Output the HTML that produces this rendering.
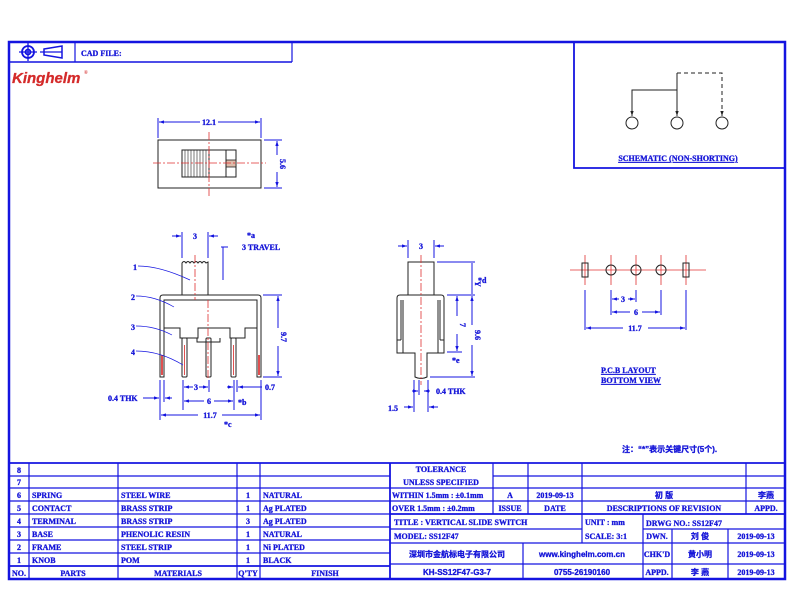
<!DOCTYPE html>
<html><head><meta charset="utf-8"><style>
html,body{margin:0;padding:0;background:#fff;}
svg{display:block;}
text{font-family:"Liberation Serif","Noto Serif CJK SC",serif;font-weight:bold;fill:#1414d8;stroke:#1414d8;stroke-width:0.3;font-size:8px;}
.cn{font-family:"Liberation Sans","Noto Sans CJK SC",sans-serif;}
.b{stroke:#1414e0;fill:none;}
.k{stroke:#222;fill:none;stroke-width:1;}
.r{stroke:#e03030;fill:none;stroke-width:0.8;stroke-dasharray:8 2 2 2;}
</style></head><body>
<svg width="795" height="597" viewBox="0 0 795 597" xmlns="http://www.w3.org/2000/svg">
<defs>
<marker id="a" viewBox="0 0 6 6" refX="6" refY="3" markerWidth="5" markerHeight="5" orient="auto-start-reverse"><path d="M0,1 L6,3 L0,5z" fill="#1414e0"/></marker>
<marker id="ak" viewBox="0 0 6 6" refX="6" refY="3" markerWidth="5" markerHeight="5" orient="auto"><path d="M0,1 L6,3 L0,5z" fill="#222"/></marker>
</defs>
<!-- frame -->
<rect x="9" y="42" width="776" height="537" class="b" stroke-width="2.5"/>
<line x1="9" y1="62" x2="292" y2="62" class="b" stroke-width="1.5"/>
<line x1="75" y1="42" x2="75" y2="62" class="b" stroke-width="1.2"/>
<line x1="292" y1="42" x2="292" y2="62" class="b" stroke-width="1.2"/>
<circle cx="28" cy="52" r="6" class="b" stroke-width="1.8"/><circle cx="28" cy="52" r="2.5" class="b" stroke-width="1.8"/>
<line x1="19" y1="52" x2="37" y2="52" class="b" stroke-width="1.3"/><line x1="28" y1="43" x2="28" y2="61" class="b" stroke-width="1.3"/>
<path d="M44,49 L62,46 L62,58 L44,55 Z" class="b" stroke-width="1.5"/><line x1="40" y1="52" x2="62" y2="52" class="b" stroke-width="1.3"/>
<text x="81" y="56" font-size="9">CAD  FILE:</text>
<text x="12" y="83" style="font-family:'Liberation Sans',sans-serif;font-style:italic;font-size:15px;fill:#d42a2a;stroke:#d42a2a;stroke-width:0.3">Kinghelm</text>
<text x="84" y="74" style="font-size:5px;fill:#d42a2a;stroke:none">®</text>
<!-- schematic box -->
<polyline points="574,42 574,168 785,168" class="b" stroke-width="1.8"/>
<circle cx="632" cy="123" r="6" class="k"/><circle cx="677" cy="123" r="6" class="k"/><circle cx="722" cy="123" r="6" class="k"/>
<polyline points="632,116 632,90 677,90" class="k"/>
<line x1="632" y1="100" x2="632" y2="116" class="k" marker-end="url(#ak)"/>
<line x1="677" y1="73" x2="677" y2="116" class="k" marker-end="url(#ak)"/>
<polyline points="677,73 722,73 722,116" class="k" stroke-dasharray="4 3" marker-end="url(#ak)"/>
<text x="678" y="161" text-anchor="middle" text-decoration="underline">SCHEMATIC  (NON-SHORTING)</text>
<!-- top view -->
<rect x="158" y="140" width="103" height="48" class="k"/>
<rect x="182" y="150" width="27" height="27" class="k"/>
<g stroke="#222" stroke-width="0.6"><line x1="185" y1="150" x2="185" y2="177"/><line x1="188" y1="150" x2="188" y2="177"/><line x1="191" y1="150" x2="191" y2="177"/><line x1="194" y1="150" x2="194" y2="177"/><line x1="197" y1="150" x2="197" y2="177"/><line x1="200" y1="150" x2="200" y2="177"/><line x1="203" y1="150" x2="203" y2="177"/><line x1="206" y1="150" x2="206" y2="177"/></g>
<rect x="209" y="150" width="27" height="27" class="k"/>
<rect x="226" y="160" width="10" height="7" fill="#dba" stroke="#222" stroke-width="0.8"/>
<line x1="226" y1="150" x2="226" y2="177" class="k"/>
<line x1="209" y1="132" x2="209" y2="196" class="r"/><line x1="153" y1="163" x2="266" y2="163" class="r"/>
<line x1="158" y1="118" x2="158" y2="138" class="b"/><line x1="261" y1="118" x2="261" y2="138" class="b"/>
<line x1="159" y1="122" x2="200" y2="122" class="b" marker-start="url(#a)"/><line x1="218" y1="122" x2="260" y2="122" class="b" marker-end="url(#a)"/>
<text x="209" y="125" text-anchor="middle" font-size="9">12.1</text>
<line x1="264" y1="140" x2="282" y2="140" class="b"/><line x1="264" y1="188" x2="282" y2="188" class="b"/>
<line x1="277" y1="141" x2="277" y2="155" class="b" marker-start="url(#a)"/><line x1="277" y1="172" x2="277" y2="187" class="b" marker-end="url(#a)"/>
<text x="280" y="164" text-anchor="middle" font-size="9" transform="rotate(90 280 164)">5.6</text>
<!-- front view -->
<path d="M182,295 L182,263 Q184,260 186,263 Q188,260 190,263 Q192,260 194,263 Q196,260 198,263 Q200,260 202,263 Q204,260 206,263 L208,262 L208,295" class="k"/>
<path d="M160,377 L160,298 Q160,295 163,295 L258,295 Q261,295 261,298 L261,377 L257,377 L257,300 L164,300 L164,377 Z" class="k" fill="#fff"/>
<polyline points="164,328 180,328 180,338 198,338 198,328 230,328 230,338 245,338 245,328 257,328" class="k"/>
<polyline points="197,338 197,342 220,342 220,338" class="k"/>
<rect x="182" y="338" width="5" height="39" class="k" rx="1"/><rect x="206" y="338" width="5" height="39" class="k" rx="1"/><rect x="231" y="338" width="5" height="39" class="k" rx="1"/>
<rect x="161" y="355" width="2" height="20" fill="#e05050"/><rect x="258" y="355" width="2" height="20" fill="#e05050"/>
<line x1="184.5" y1="345" x2="184.5" y2="375" stroke="#e05050"/><line x1="233.5" y1="345" x2="233.5" y2="375" stroke="#e05050"/>
<line x1="195" y1="255" x2="195" y2="300" class="r"/><line x1="208" y1="300" x2="208" y2="378" class="r"/>
<line x1="182" y1="232" x2="182" y2="258" class="b"/><line x1="208" y1="232" x2="208" y2="258" class="b"/>
<line x1="172" y1="236" x2="181" y2="236" class="b" marker-end="url(#a)"/><line x1="218" y1="236" x2="209" y2="236" class="b" marker-end="url(#a)"/>
<text x="195" y="239" text-anchor="middle" font-size="9">3</text>
<text x="247" y="238" font-size="8">*a</text><text x="242" y="250" font-size="8">3  TRAVEL</text>
<line x1="223" y1="247" x2="223" y2="280" class="b"/><line x1="221" y1="247" x2="228" y2="247" class="b"/>
<line x1="263" y1="295" x2="282" y2="295" class="b"/><line x1="263" y1="377" x2="282" y2="377" class="b"/>
<line x1="278" y1="296" x2="278" y2="328" class="b" marker-start="url(#a)"/><line x1="278" y1="346" x2="278" y2="376" class="b" marker-end="url(#a)"/>
<text x="281" y="337" text-anchor="middle" font-size="9" transform="rotate(90 281 337)">9.7</text>
<text x="133" y="270" font-size="9">1</text><path d="M138,266 Q160,266 190,280" class="b" stroke-width="0.7"/>
<text x="131" y="300" font-size="9">2</text><path d="M136,296 Q155,296 174,307" class="b" stroke-width="0.7"/>
<text x="131" y="330" font-size="9">3</text><path d="M136,326 Q155,326 172,335" class="b" stroke-width="0.7"/>
<text x="131" y="355" font-size="9">4</text><path d="M136,351 Q160,351 183,365" class="b" stroke-width="0.7"/>
<line x1="183" y1="380" x2="183" y2="410" class="b"/><line x1="209" y1="380" x2="209" y2="392" class="b"/><line x1="234" y1="380" x2="234" y2="410" class="b"/><line x1="237" y1="380" x2="237" y2="392" class="b"/>
<line x1="160" y1="380" x2="160" y2="420" class="b"/><line x1="261" y1="380" x2="261" y2="420" class="b"/>
<line x1="184" y1="387" x2="193" y2="387" class="b" marker-start="url(#a)"/><line x1="199" y1="387" x2="208" y2="387" class="b" marker-end="url(#a)"/><text x="196" y="390" text-anchor="middle" font-size="9">3</text>
<line x1="227" y1="387" x2="233" y2="387" class="b" marker-end="url(#a)"/><line x1="247" y1="387" x2="238" y2="387" class="b" marker-end="url(#a)"/><line x1="247" y1="387" x2="262" y2="387" class="b"/><text x="265" y="390" font-size="9">0.7</text>
<line x1="184" y1="401" x2="204" y2="401" class="b" marker-start="url(#a)"/><line x1="214" y1="401" x2="233" y2="401" class="b" marker-end="url(#a)"/><text x="209" y="404" text-anchor="middle" font-size="9">6</text><text x="238" y="405" font-size="8">*b</text>
<text x="108" y="401" font-size="8">0.4  THK</text><line x1="143" y1="398" x2="159" y2="398" class="b" marker-end="url(#a)"/><line x1="172" y1="398" x2="165" y2="398" class="b" marker-end="url(#a)"/><line x1="164" y1="380" x2="164" y2="402" class="b"/>
<line x1="161" y1="415" x2="198" y2="415" class="b" marker-start="url(#a)"/><line x1="222" y1="415" x2="260" y2="415" class="b" marker-end="url(#a)"/><text x="210" y="418" text-anchor="middle" font-size="9">11.7</text><text x="224" y="427" font-size="8">*c</text>
<!-- side view -->
<rect x="408" y="262" width="26" height="33" class="k"/>
<path d="M397,353 L397,298 Q397,295 400,295 L441,295 Q444,295 444,298 L444,353 L427,353 L427,377 Q421,380 415,377 L415,353 Z" class="k"/>
<line x1="401" y1="300" x2="401" y2="340" class="k"/><line x1="440" y1="300" x2="440" y2="340" class="k"/>
<line x1="397" y1="340" x2="401" y2="340" class="k"/><line x1="440" y1="340" x2="444" y2="340" class="k"/>
<line x1="403" y1="300" x2="403" y2="353" class="k"/><line x1="438" y1="300" x2="438" y2="353" class="k"/>
<line x1="421" y1="255" x2="421" y2="385" class="r"/>
<line x1="408" y1="240" x2="408" y2="258" class="b"/><line x1="434" y1="240" x2="434" y2="258" class="b"/>
<line x1="398" y1="246" x2="407" y2="246" class="b" marker-end="url(#a)"/><line x1="444" y1="246" x2="435" y2="246" class="b" marker-end="url(#a)"/><text x="421" y="249" text-anchor="middle" font-size="9">3</text>
<line x1="437" y1="262" x2="475" y2="262" class="b"/><line x1="447" y1="295" x2="475" y2="295" class="b"/><line x1="447" y1="352" x2="462" y2="352" class="b"/><line x1="430" y1="377" x2="475" y2="377" class="b"/>
<line x1="472" y1="263" x2="472" y2="294" class="b"/><text x="475" y="281" font-size="8" transform="rotate(90 475 281)">Y</text><text x="478" y="283" font-size="8">*d</text>
<line x1="457" y1="296" x2="457" y2="316" class="b" marker-start="url(#a)"/><line x1="457" y1="334" x2="457" y2="351" class="b" marker-end="url(#a)"/><text x="460" y="325" text-anchor="middle" font-size="9" transform="rotate(90 460 325)">7</text>
<text x="452" y="363" font-size="8">*e</text>
<line x1="472" y1="296" x2="472" y2="325" class="b" marker-start="url(#a)"/><line x1="472" y1="345" x2="472" y2="376" class="b" marker-end="url(#a)"/><text x="475" y="335" text-anchor="middle" font-size="9" transform="rotate(90 475 335)">9.6</text>
<line x1="414" y1="380" x2="414" y2="412" class="b"/><line x1="428" y1="380" x2="428" y2="412" class="b"/><line x1="419" y1="380" x2="419" y2="395" class="b"/>
<line x1="412" y1="391" x2="418" y2="391" class="b" marker-end="url(#a)"/><line x1="430" y1="391" x2="424" y2="391" class="b" marker-end="url(#a)"/><text x="436" y="394" font-size="8">0.4  THK</text>
<text x="388" y="411" font-size="9">1.5</text><line x1="404" y1="407" x2="413" y2="407" class="b" marker-end="url(#a)"/><line x1="438" y1="407" x2="429" y2="407" class="b" marker-end="url(#a)"/>
<!-- PCB -->
<line x1="570" y1="270" x2="706" y2="270" stroke="#e03030" stroke-width="0.8"/>
<g stroke="#e03030" stroke-width="0.8"><line x1="585" y1="255" x2="585" y2="285"/><line x1="611" y1="255" x2="611" y2="285"/><line x1="636" y1="255" x2="636" y2="285"/><line x1="661" y1="255" x2="661" y2="285"/><line x1="686" y1="255" x2="686" y2="285"/></g>
<rect x="582" y="263" width="6" height="14" class="k"/><rect x="683" y="263" width="6" height="14" class="k"/>
<circle cx="611" cy="270" r="5" class="k"/><circle cx="636" cy="270" r="5" class="k"/><circle cx="661" cy="270" r="5" class="k"/>
<line x1="585" y1="290" x2="585" y2="330" class="b"/><line x1="611" y1="290" x2="611" y2="315" class="b"/><line x1="636" y1="290" x2="636" y2="302" class="b"/><line x1="661" y1="290" x2="661" y2="315" class="b"/><line x1="686" y1="290" x2="686" y2="330" class="b"/>
<line x1="612" y1="299" x2="619" y2="299" class="b" marker-start="url(#a)"/><line x1="628" y1="299" x2="635" y2="299" class="b" marker-end="url(#a)"/><text x="623" y="302" text-anchor="middle" font-size="9">3</text>
<line x1="612" y1="312" x2="630" y2="312" class="b" marker-start="url(#a)"/><line x1="642" y1="312" x2="660" y2="312" class="b" marker-end="url(#a)"/><text x="636" y="315" text-anchor="middle" font-size="9">6</text>
<line x1="586" y1="328" x2="623" y2="328" class="b" marker-start="url(#a)"/><line x1="648" y1="328" x2="685" y2="328" class="b" marker-end="url(#a)"/><text x="635" y="331" text-anchor="middle" font-size="9">11.7</text>
<text x="601" y="373" font-size="8.5" text-decoration="underline">P.C.B  LAYOUT</text>
<text x="601" y="383" font-size="8.5" text-decoration="underline">BOTTOM  VIEW</text>
<text x="622" y="452" class="cn" font-size="8">注：“*”表示关键尺寸(5个).</text>
<!-- bottom table -->
<g class="b" stroke-width="1.2">
<line x1="9" y1="463" x2="785" y2="463" stroke-width="1.8"/>
<line x1="9" y1="476" x2="390" y2="476"/><line x1="9" y1="488" x2="390" y2="488"/><line x1="9" y1="501" x2="390" y2="501"/><line x1="9" y1="514" x2="390" y2="514"/><line x1="9" y1="527" x2="390" y2="527"/><line x1="9" y1="540" x2="390" y2="540"/><line x1="9" y1="553" x2="390" y2="553"/><line x1="9" y1="566" x2="390" y2="566" stroke-width="1.8"/>
<line x1="29" y1="463" x2="29" y2="579"/><line x1="118" y1="463" x2="118" y2="579"/><line x1="237" y1="463" x2="237" y2="579"/><line x1="260" y1="463" x2="260" y2="579"/><line x1="390" y1="463" x2="390" y2="579" stroke-width="1.8"/>
<line x1="493" y1="476" x2="785" y2="476"/><line x1="390" y1="488" x2="785" y2="488"/><line x1="390" y1="501" x2="785" y2="501"/><line x1="390" y1="514" x2="785" y2="514" stroke-width="1.8"/>
<line x1="390" y1="529" x2="582" y2="529"/><line x1="643" y1="529" x2="785" y2="529"/>
<line x1="390" y1="543" x2="785" y2="543"/><line x1="390" y1="564" x2="785" y2="564"/>
<line x1="493" y1="463" x2="493" y2="514"/><line x1="528" y1="463" x2="528" y2="514"/><line x1="582" y1="463" x2="582" y2="543"/><line x1="746" y1="463" x2="746" y2="514"/>
<line x1="643" y1="514" x2="643" y2="579"/><line x1="672" y1="529" x2="672" y2="579"/><line x1="728" y1="529" x2="728" y2="579"/><line x1="523" y1="543" x2="523" y2="579"/>
</g>
<g font-size="7.5">
<text x="19" y="473" text-anchor="middle">8</text><text x="19" y="485" text-anchor="middle">7</text>
<text x="19" y="498" text-anchor="middle">6</text><text x="32" y="498">SPRING</text><text x="121" y="498">STEEL  WIRE</text><text x="248" y="498" text-anchor="middle">1</text><text x="263" y="498">NATURAL</text>
<text x="19" y="511" text-anchor="middle">5</text><text x="32" y="511">CONTACT</text><text x="121" y="511">BRASS  STRIP</text><text x="248" y="511" text-anchor="middle">1</text><text x="263" y="511">Ag  PLATED</text>
<text x="19" y="524" text-anchor="middle">4</text><text x="32" y="524">TERMINAL</text><text x="121" y="524">BRASS  STRIP</text><text x="248" y="524" text-anchor="middle">3</text><text x="263" y="524">Ag  PLATED</text>
<text x="19" y="537" text-anchor="middle">3</text><text x="32" y="537">BASE</text><text x="121" y="537">PHENOLIC  RESIN</text><text x="248" y="537" text-anchor="middle">1</text><text x="263" y="537">NATURAL</text>
<text x="19" y="550" text-anchor="middle">2</text><text x="32" y="550">FRAME</text><text x="121" y="550">STEEL  STRIP</text><text x="248" y="550" text-anchor="middle">1</text><text x="263" y="550">Ni  PLATED</text>
<text x="19" y="563" text-anchor="middle">1</text><text x="32" y="563">KNOB</text><text x="121" y="563">POM</text><text x="248" y="563" text-anchor="middle">1</text><text x="263" y="563">BLACK</text>
<text x="19" y="576" text-anchor="middle">NO.</text><text x="73" y="576" text-anchor="middle">PARTS</text><text x="178" y="576" text-anchor="middle">MATERIALS</text><text x="248" y="576" text-anchor="middle">Q'TY</text><text x="325" y="576" text-anchor="middle">FINISH</text>
<text x="441" y="472" text-anchor="middle">TOLERANCE</text><text x="441" y="485" text-anchor="middle">UNLESS  SPECIFIED</text>
<text x="392" y="498">WITHIN 1.5mm : ±0.1mm</text><text x="510" y="498" text-anchor="middle">A</text><text x="555" y="498" text-anchor="middle">2019-09-13</text><text x="664" y="498" text-anchor="middle" class="cn">初    版</text><text x="766" y="498" text-anchor="middle" class="cn">李燕</text>
<text x="392" y="511">OVER 1.5mm : ±0.2mm</text><text x="510" y="511" text-anchor="middle">ISSUE</text><text x="555" y="511" text-anchor="middle">DATE</text><text x="664" y="511" text-anchor="middle">DESCRIPTIONS  OF  REVISION</text><text x="766" y="511" text-anchor="middle">APPD.</text>
</g>
<g font-size="8.5">
<text x="394" y="525">TITLE :   VERTICAL  SLIDE  SWITCH</text><text x="585" y="525" font-size="7.5">UNIT :   mm</text><text x="646" y="526" font-size="7.5">DRWG  NO.: SS12F47</text>
<text x="394" y="539">MODEL:   SS12F47</text><text x="585" y="539" font-size="7.5">SCALE:  3:1</text>
<text x="457" y="557" text-anchor="middle" class="cn" font-size="8">深圳市金航标电子有限公司</text><text x="582" y="557" text-anchor="middle" class="cn" font-size="8">www.kinghelm.com.cn</text>
<text x="457" y="575" text-anchor="middle" class="cn" font-size="8">KH-SS12F47-G3-7</text><text x="582" y="575" text-anchor="middle" class="cn" font-size="8">0755-26190160</text>
<text x="657" y="539" text-anchor="middle" font-size="7.5">DWN.</text><text x="700" y="539" text-anchor="middle" class="cn">刘  俊</text><text x="756" y="539" text-anchor="middle" font-size="7.5">2019-09-13</text>
<text x="657" y="557" text-anchor="middle" font-size="7.5">CHK'D</text><text x="700" y="557" text-anchor="middle" class="cn">黄小明</text><text x="756" y="557" text-anchor="middle" font-size="7.5">2019-09-13</text>
<text x="657" y="575" text-anchor="middle" font-size="7.5">APPD.</text><text x="700" y="575" text-anchor="middle" class="cn">李  燕</text><text x="756" y="575" text-anchor="middle" font-size="7.5">2019-09-13</text>
</g>
</svg>
</body></html>
